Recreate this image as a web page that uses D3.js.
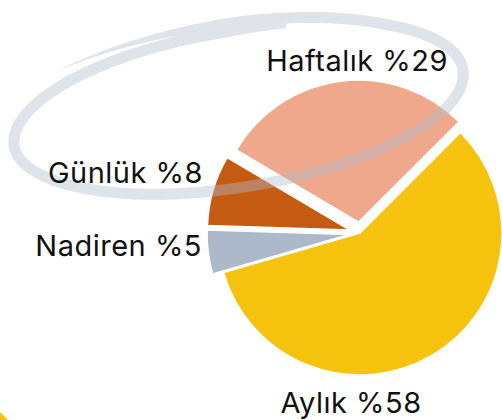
<!DOCTYPE html>
<html>
<head>
<meta charset="utf-8">
<script src="https://cdn.jsdelivr.net/npm/d3@7"></script>
<style>
  body { margin: 0; background: white; }
  text { font-family: Inter, "Noto Sans", sans-serif; }
</style>
</head>
<body>
<script>
// data, clockwise from the Aylık slice
const categories = ["Aylık", "Nadiren", "Günlük", "Haftalık"]
const shares = [58, 5, 8, 29]
const labels = ["Aylık %58", "Nadiren %5", "Günlük %8", "Haftalık %29"]

const [width, height] = [502, 420]
const colors = {
    "Aylık": "#f5c30e",
    "Nadiren": "#adb8cb",
    "Günlük": "#c55a12",
    "Haftalık": "#f0a88c",
    "ring": "rgb(178,188,204)",
    "text": "#111"
}
const center = [360, 233]
const r = 142
const explode = { "Aylık": 0, "Nadiren": 11, "Günlük": 11, "Haftalık": 11 }
// label anchor points (text-anchor, x, baseline)
const labelPos = {
    "Aylık": ["middle", 351, 413],
    "Nadiren": ["end", 202, 256],
    "Günlük": ["end", 203, 183],
    "Haftalık": ["end", 448, 71]
}

const svg = d3.select("body")
    .append("svg")
        .attr("width", width)
        .attr("height", height)

const rad = Math.PI / 180
const pie = d3.pie().sort(null).value(d => d.v)
    .startAngle(45 * rad).endAngle(405 * rad)
const arcs = pie(categories.map((c, i) => ({ c, v: shares[i] })))
const arc = d3.arc().innerRadius(0).outerRadius(r)

// piece of a neighbouring graphic in the bottom-left corner
svg.append("path")
    .attr("d", "M0,412 L8,420 L0,420 Z")
    .attr("fill", colors["Aylık"])

const gPie = svg.append("g").attr("transform", `translate(${center})`)
gPie.selectAll("path")
    .data(arcs)
    .enter()
    .append("path")
        .attr("d", arc)
        .attr("fill", d => colors[d.data.c])
        .attr("stroke", "white")
        .attr("stroke-width", 1.5)
        .attr("stroke-linejoin", "round")
        .attr("transform", d => {
            const m = (d.startAngle + d.endAngle) / 2
            const o = explode[d.data.c]
            return `translate(${o * Math.sin(m)},${-o * Math.cos(m)})`
        })

// hand drawn loop around the chart (a brush stroke along a tilted ellipse)
const ring = { cx: 238, cy: 107, a: 228, b: 80, rot: -9.4 * rad, t0: -2.33, t1: 5.0, w: 11 }
const scaleAt = t => t < -0.8 ? 1.11 - 0.11 * (t - ring.t0) / (-0.8 - ring.t0)
                   : t < 3.0 ? 1 : 1 - 0.06 * (t - 3.0) / (ring.t1 - 3.0)
const widthAt = t => t < -1.5 ? ring.w * (t - ring.t0) / (-1.5 - ring.t0)
                   : t > 4.7 ? ring.w * (0.4 + 0.6 * (ring.t1 - t) / (ring.t1 - 4.7)) : ring.w
const ptAt = t => {
    const s = scaleAt(t)
    const u = ring.a * s * Math.cos(t), v = ring.b * s * Math.sin(t)
    return [ring.cx + u * Math.cos(ring.rot) - v * Math.sin(ring.rot),
            ring.cy + u * Math.sin(ring.rot) + v * Math.cos(ring.rot)]
}
const ts = d3.range(ring.t0, ring.t1 + 1e-9, (ring.t1 - ring.t0) / 400)
const sideA = [], sideB = []
ts.forEach(t => {
    const p = ptAt(t), q = ptAt(t + 0.001)
    const dx = q[0] - p[0], dy = q[1] - p[1], L = Math.hypot(dx, dy)
    const nx = -dy / L, ny = dx / L, h = widthAt(t) / 2
    sideA.push([p[0] + nx * h, p[1] + ny * h])
    sideB.push([p[0] - nx * h, p[1] - ny * h])
})
svg.append("path")
    .attr("d", d3.line().curve(d3.curveLinearClosed)(sideA.concat(sideB.reverse())))
    .attr("fill", colors.ring)
    .attr("fill-opacity", 0.42)

// labels
svg.append("g")
.selectAll("text")
.data(arcs)
.enter()
.append("text")
    .text((d, i) => labels[i])
    .attr("text-anchor", d => labelPos[d.data.c][0])
    .attr("x", d => labelPos[d.data.c][1])
    .attr("y", d => labelPos[d.data.c][2])
    .attr("font-size", 29)
    .attr("letter-spacing", 0.5)
    .attr("fill", colors.text)
</script>
</body>
</html>
